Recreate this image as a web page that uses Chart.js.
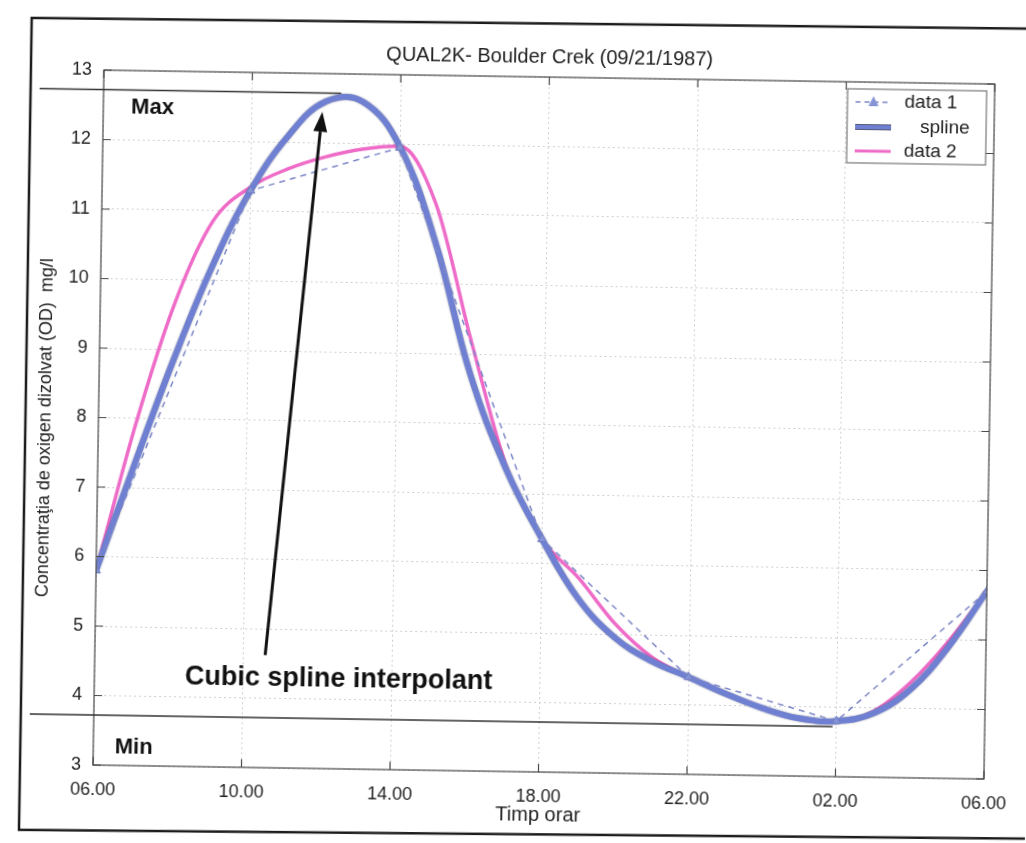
<!DOCTYPE html>
<html>
<head>
<meta charset="utf-8">
<script src="https://cdn.jsdelivr.net/npm/chart.js@4.4.1/dist/chart.umd.min.js"></script>
<style>
  html, body { margin:0; padding:0; background:#fff; overflow:hidden; }
  #wrap { width:1026px; height:843px; position:relative; }
  /* the original is a slightly tilted scan */
  #chart { transform-origin:93px 765px; transform:rotate(0.9deg); }
</style>
</head>
<body>
<div id="wrap"><canvas id="chart" width="1026" height="843"></canvas></div>
<script>

/* =====================================================
   DATA
===================================================== */

// hours after 06.00
const dataHours = [0, 4, 8, 12, 16, 20, 24];
const data1 = [5.8, 11.3, 11.95, 6.35, 4.4, 3.8, 5.7];

// curves, one value per hour (0..24)
const curveHours = [0,1,2,3,4,5,6,7,8,9,10,11,12,13,14,15,16,17,18,19,20,21,22,23,24];
const splineValues = [5.8, 7.35, 8.85, 10.2, 11.3, 12.1, 12.6, 12.6, 11.97, 10.6, 8.7, 7.35, 6.35,
                      5.5, 4.95, 4.62, 4.4, 4.17, 3.97, 3.83, 3.8, 3.92, 4.28, 4.9, 5.7];
const data2Values  = [5.8, 7.9, 9.65, 10.85, 11.35, 11.62, 11.8, 11.92, 11.97, 11.15, 9.2, 7.4, 6.35,
                      5.8, 5.15, 4.68, 4.4, 4.17, 3.97, 3.84, 3.8, 3.95, 4.38, 4.98, 5.7];

const xTickLabels = ["06.00", "10.00", "14.00", "18.00", "22.00", "02.00", "06.00"];

const chartTitle = "QUAL2K- Boulder Crek (09/21/1987)";
const yTitle = "Concentraţia de oxigen dizolvat (OD)  mg/l";
const xTitle = "Timp orar";

const maxLevel = 12.72;
const minLevel = 3.72;


/* =====================================================
   COLOURS / FONTS
===================================================== */

const FONT = "'Liberation Sans', Arial, sans-serif";
const splineColor = "#6f80d2";
const data1Color  = "#7c86c6";
const data2Color  = "#ee6cc8";
const gridColor   = "#cfcfcf";


/* =====================================================
   ANNOTATIONS (titles, frame, max/min, arrow, legend)
===================================================== */

const annotations = {
  id: "annotations",

  // darker rim on the thick spline, like the scan
  beforeDatasetDraw(chart, args){
    if(args.index === 1){
      chart.ctx.save();
      chart.ctx.shadowColor = "rgba(40,40,70,0.55)";
      chart.ctx.shadowBlur = 2;
    }
  },

  afterDatasetDraw(chart, args){
    if(args.index === 1){
      chart.ctx.restore();
    }
  },

  afterDraw(chart){

    const ctx = chart.ctx;
    const a = chart.chartArea;
    const xs = chart.scales.x;
    const ys = chart.scales.y;

    ctx.save();

    // axes box
    ctx.strokeStyle = "#4a4a4a";
    ctx.lineWidth = 1.2;
    ctx.strokeRect(a.left, a.top, a.right - a.left, a.bottom - a.top);

    // inward ticks
    ctx.beginPath();
    xs.ticks.forEach(t => {
      const px = xs.getPixelForValue(t.value);
      ctx.moveTo(px, a.bottom); ctx.lineTo(px, a.bottom - 8);
      ctx.moveTo(px, a.top);    ctx.lineTo(px, a.top + 8);
    });
    ys.ticks.forEach(t => {
      const py = ys.getPixelForValue(t.value);
      ctx.moveTo(a.left, py);  ctx.lineTo(a.left + 8, py);
      ctx.moveTo(a.right, py); ctx.lineTo(a.right - 8, py);
    });
    ctx.stroke();

    // paper frame
    ctx.strokeStyle = "#1c1c1c";
    ctx.lineWidth = 2.5;
    ctx.beginPath();
    ctx.moveTo(1030, 14); ctx.lineTo(20, 19); ctx.lineTo(20, 831); ctx.lineTo(1030, 824);
    ctx.stroke();

    // titles
    ctx.fillStyle = "#222";
    ctx.textAlign = "center";
    ctx.textBaseline = "middle";
    ctx.font = "20px " + FONT;
    ctx.fillText(chartTitle, (a.left + a.right) / 2, a.top - 20);

    ctx.font = "20px " + FONT;
    ctx.fillText(xTitle, (a.left + a.right) / 2, a.bottom + 43);

    ctx.save();
    ctx.translate(a.left - 53, (a.top + a.bottom) / 2 + 11);
    ctx.rotate(-Math.PI / 2);
    ctx.font = "18px " + FONT;
    ctx.fillText(yTitle, 0, 0);
    ctx.restore();

    // max / min lines
    ctx.strokeStyle = "#333";
    ctx.lineWidth = 1.6;
    ctx.beginPath();
    ctx.moveTo(a.left - 64, ys.getPixelForValue(maxLevel));
    ctx.lineTo(xs.getPixelForValue(6.4), ys.getPixelForValue(maxLevel));
    ctx.moveTo(a.left - 64, ys.getPixelForValue(minLevel));
    ctx.lineTo(xs.getPixelForValue(19.9), ys.getPixelForValue(minLevel));
    ctx.stroke();

    ctx.fillStyle = "#111";
    ctx.textAlign = "left";
    ctx.font = "bold 22px " + FONT;
    ctx.fillText("Max", xs.getPixelForValue(0.75), ys.getPixelForValue(12.47));
    ctx.fillText("Min", xs.getPixelForValue(0.58), ys.getPixelForValue(3.26));

    // arrow
    const x0 = xs.getPixelForValue(4.59), y0 = ys.getPixelForValue(4.62);
    const x1 = xs.getPixelForValue(5.9),  y1 = ys.getPixelForValue(12.45);
    const ang = Math.atan2(y1 - y0, x1 - x0);
    const hl = 20, hw = 7;
    ctx.strokeStyle = "#111";
    ctx.lineWidth = 3;
    ctx.beginPath();
    ctx.moveTo(x0, y0);
    ctx.lineTo(x1 - hl * Math.cos(ang), y1 - hl * Math.sin(ang));
    ctx.stroke();
    ctx.beginPath();
    ctx.moveTo(x1, y1);
    ctx.lineTo(x1 - hl * Math.cos(ang) + hw * Math.sin(ang), y1 - hl * Math.sin(ang) - hw * Math.cos(ang));
    ctx.lineTo(x1 - hl * Math.cos(ang) - hw * Math.sin(ang), y1 - hl * Math.sin(ang) + hw * Math.cos(ang));
    ctx.closePath();
    ctx.fill();

    ctx.font = "bold 27px " + FONT;
    ctx.fillText("Cubic spline interpolant", xs.getPixelForValue(2.44), ys.getPixelForValue(4.29));

    // legend
    const bx = a.right - 147, by = a.top + 7, bw = 139, bh = 74;
    ctx.fillStyle = "#fff";
    ctx.fillRect(bx, by, bw, bh);
    ctx.strokeStyle = "#777";
    ctx.lineWidth = 1.2;
    ctx.strokeRect(bx, by, bw, bh);

    const rows = [by + 13, by + 38, by + 62];

    ctx.strokeStyle = data1Color;
    ctx.lineWidth = 1.5;
    ctx.setLineDash([5, 4]);
    ctx.beginPath();
    ctx.moveTo(bx + 8, rows[0]); ctx.lineTo(bx + 44, rows[0]);
    ctx.stroke();
    ctx.setLineDash([]);
    ctx.fillStyle = "#8594d6";
    ctx.beginPath();
    ctx.moveTo(bx + 26, rows[0] - 6);
    ctx.lineTo(bx + 31, rows[0] + 4);
    ctx.lineTo(bx + 21, rows[0] + 4);
    ctx.closePath();
    ctx.fill();

    ctx.strokeStyle = "#555a78";
    ctx.lineWidth = 6;
    ctx.beginPath();
    ctx.moveTo(bx + 8, rows[1]); ctx.lineTo(bx + 44, rows[1]);
    ctx.stroke();
    ctx.strokeStyle = splineColor;
    ctx.lineWidth = 4;
    ctx.beginPath();
    ctx.moveTo(bx + 8, rows[1]); ctx.lineTo(bx + 44, rows[1]);
    ctx.stroke();

    ctx.strokeStyle = data2Color;
    ctx.lineWidth = 3;
    ctx.beginPath();
    ctx.moveTo(bx + 8, rows[2]); ctx.lineTo(bx + 44, rows[2]);
    ctx.stroke();

    ctx.fillStyle = "#222";
    ctx.font = "19px " + FONT;
    ctx.fillText("data 1", bx + 57, rows[0]);
    ctx.fillText("spline", bx + 73, rows[1]);
    ctx.fillText("data 2", bx + 57, rows[2]);

    ctx.restore();
  }
};


/* =====================================================
   CHART
===================================================== */

const ctx = document.getElementById("chart").getContext("2d");

new Chart(ctx, {

  type: "line",

  data: {
    datasets: [
      {
        label: "data 1",
        data: dataHours.map((h, i) => ({ x: h, y: data1[i] })),
        borderColor: data1Color,
        borderWidth: 1.5,
        borderDash: [6, 5],
        tension: 0,
        pointStyle: "triangle",
        pointRadius: 5,
        pointBackgroundColor: "#8594d6",
        pointBorderColor: "#6d7cc2",
        pointBorderWidth: 1
      },
      {
        label: "spline",
        data: curveHours.map((h, i) => ({ x: h, y: splineValues[i] })),
        borderColor: splineColor,
        borderWidth: 6,
        tension: 0.4,
        pointRadius: 0
      },
      {
        label: "data 2",
        data: curveHours.map((h, i) => ({ x: h, y: data2Values[i] })),
        borderColor: data2Color,
        borderWidth: 3.5,
        cubicInterpolationMode: "monotone",
        pointRadius: 0
      }
    ]
  },

  options: {
    responsive: false,
    animation: false,
    layout: {
      padding: { left: 28, right: 42, top: 70, bottom: 13 }
    },
    plugins: {
      legend: { display: false },
      tooltip: { enabled: false },
      title: { display: false }
    },
    scales: {
      x: {
        type: "linear",
        min: 0,
        max: 24,
        afterFit: s => { s.height = 65; },
        ticks: {
          stepSize: 4,
          padding: 14,
          color: "#222",
          maxRotation: 0,
          font: { family: FONT, size: 18 },
          callback: (v, i) => xTickLabels[i]
        },
        grid: { color: gridColor, drawTicks: false },
        border: { display: false, dash: [2, 3] }
      },
      y: {
        min: 3,
        max: 13,
        afterFit: s => { s.width = 65; },
        ticks: {
          stepSize: 1,
          padding: 12,
          color: "#222",
          font: { family: FONT, size: 18 }
        },
        grid: { color: gridColor, drawTicks: false },
        border: { display: false, dash: [2, 3] }
      }
    }
  },

  plugins: [annotations]

});

</script>
</body>
</html>
